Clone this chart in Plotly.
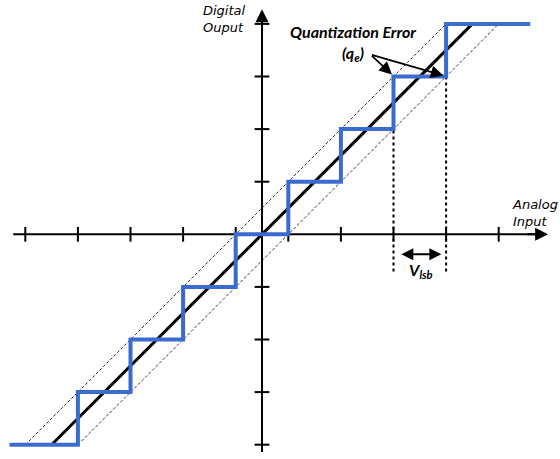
import plotly.graph_objects as go

# ---- data ----
levels = [-4, -3, -2, -1, 0, 1, 2, 3, 4]
edges = [-4.8, -3.5, -2.5, -1.5, -0.5, 0.5, 1.5, 2.5, 3.5, 5.1]
ideal_x = [-4, 4]
ideal_y = [-4, 4]
x_ticks = [-4.5, -3.5, -2.5, -1.5, -0.5, 0.5, 1.5, 2.5, 3.5, 4.5]
y_ticks = [-4, -3, -2, -1, 1, 2, 3, 4]
lsb_edges = [2.5, 3.5]
lsb_level = 3

# ---- geometry (page pixels -> data) ----
W, H = 560, 459
U = 52.6
ox, oy = 262.0, 234.3
xr = [-ox / U, (W - ox) / U]
yr = [-(H - oy) / U, oy / U]


def px(x):
    return x / W


def py(y):
    return 1 - y / H


fig = go.Figure()

# axes lines
fig.add_trace(go.Scatter(x=[-4.73, 5.3], y=[0, 0], mode="lines",
                         line=dict(color="black", width=2), hoverinfo="skip"))
fig.add_trace(go.Scatter(x=[0, 0], y=[-4.14, 4.15], mode="lines",
                         line=dict(color="black", width=2), hoverinfo="skip"))
# ticks
tl = 0.14
tx, ty = [], []
for t in x_ticks:
    tx += [t, t, None]
    ty += [-tl, tl, None]
fig.add_trace(go.Scatter(x=tx, y=ty, mode="lines",
                         line=dict(color="black", width=2), hoverinfo="skip"))
tx, ty = [], []
for t in y_ticks:
    tx += [-tl, tl, None]
    ty += [t, t, None]
fig.add_trace(go.Scatter(x=tx, y=ty, mode="lines",
                         line=dict(color="black", width=2), hoverinfo="skip"))

# +/- half-LSB error band lines
for off in (0.5, -0.5):
    fig.add_trace(go.Scatter(x=[ideal_x[0] - off, ideal_x[1] - off], y=ideal_y,
                             mode="lines",
                             line=dict(color="black", width=0.8, dash="3px,2px"),
                             hoverinfo="skip"))
# ideal line
fig.add_trace(go.Scatter(x=ideal_x, y=ideal_y, mode="lines",
                         line=dict(color="black", width=3), hoverinfo="skip"))

# dotted verticals for Vlsb
for e in lsb_edges:
    fig.add_trace(go.Scatter(x=[e, e], y=[lsb_level, -0.75], mode="lines",
                             line=dict(color="black", width=2, dash="dot"),
                             hoverinfo="skip"))

# staircase
sx, sy = [], []
for i, l in enumerate(levels):
    sx += [edges[i], edges[i + 1]]
    sy += [l, l]
fig.add_trace(go.Scatter(x=sx, y=sy, mode="lines",
                         line=dict(color="#3A6BCF", width=4), hoverinfo="skip"))

ann = []
# axis arrowheads
ann.append(dict(x=5.44, y=0, ax=5.0, ay=0, xref="x", yref="y", axref="x", ayref="y",
                showarrow=True, arrowhead=2, arrowsize=1.3, arrowwidth=2,
                arrowcolor="black", text=""))
ann.append(dict(x=0, y=4.28, ax=0, ay=3.9, xref="x", yref="y", axref="x", ayref="y",
                showarrow=True, arrowhead=2, arrowsize=1.3, arrowwidth=2,
                arrowcolor="black", text=""))
# Vlsb double arrow
ann.append(dict(x=3.41, y=-0.38, ax=2.62, ay=-0.38, xref="x", yref="y", axref="x",
                ayref="y", showarrow=True, arrowhead=2, arrowside="end+start",
                arrowsize=1.2, arrowwidth=2, arrowcolor="black", text=""))
# quantization error arrows
for hx, hy in [(2.47, 3.04), (3.45, 3.02)]:
    ann.append(dict(x=hx, y=hy, ax=2.06, ay=3.42, xref="x", yref="y", axref="x",
                    ayref="y", showarrow=True, arrowhead=2, arrowsize=1.4,
                    arrowwidth=1.8, arrowcolor="black", text=""))

lab_font = dict(family="DejaVu Sans", size=13, color="black")
ann.append(dict(x=px(201), y=py(1), xref="paper", yref="paper",
                text="<i>Digital</i><br><i>Ouput</i>", showarrow=False,
                xanchor="left", yanchor="top", align="left", font=lab_font))
ann.append(dict(x=px(560), y=py(195), xref="paper", yref="paper",
                text="<i>Analog</i><br><i>Input</i>", showarrow=False,
                xanchor="right", yanchor="top", align="left", font=lab_font))
bf = dict(family="Lato", size=16, color="black")
ann.append(dict(x=px(353), y=py(31.5), xref="paper", yref="paper",
                text="<b><i>Quantization Error</i></b>", showarrow=False,
                xanchor="center", yanchor="middle", font=bf))
ann.append(dict(x=px(353), y=py(53), xref="paper", yref="paper",
                text="<b><i>(q</i></b><sub><b><i>e</i></b></sub><b><i>)</i></b>",
                showarrow=False, xanchor="center", yanchor="middle", font=bf))
ann.append(dict(x=px(421), y=py(270), xref="paper", yref="paper",
                text="<b><i>V</i></b><sub><b><i>lsb</i></b></sub>", showarrow=False,
                xanchor="center", yanchor="middle", font=bf))

fig.update_layout(
    width=W, height=H, margin=dict(l=0, r=0, t=0, b=0),
    paper_bgcolor="white", plot_bgcolor="white", showlegend=False,
    xaxis=dict(range=xr, visible=False, fixedrange=True),
    yaxis=dict(range=yr, visible=False, fixedrange=True),
    annotations=ann,
)
fig.write_html(
    "out.html",
    config={"displayModeBar": False},
    post_script="document.body.style.margin='0';document.body.style.overflow='hidden';",
)
